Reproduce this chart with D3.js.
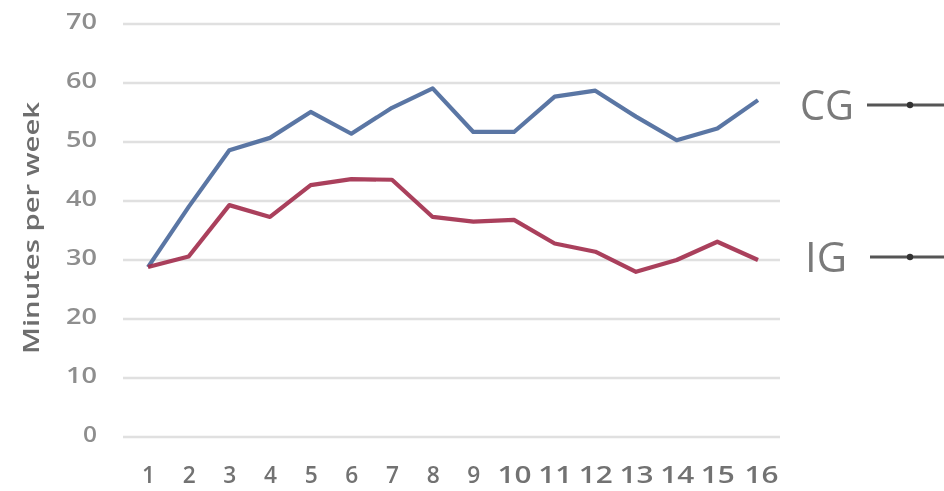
<!DOCTYPE html>
<html>
<head>
<meta charset="utf-8">
<script src="https://cdn.jsdelivr.net/npm/d3@7"></script>
<style>
  body { margin: 0; background: #fff; }
  svg text { font-family: "Open Sans", "DejaVu Sans", sans-serif; }
</style>
</head>
<body>
<div id="chart"></div>
<script>
const weeks = [1, 2, 3, 4, 5, 6, 7, 8, 9, 10, 11, 12, 13, 14, 15, 16];
const cgValues = [28.8, 39, 48.6, 50.7, 55.1, 51.4, 55.8, 59.1, 51.7, 51.7, 57.7, 58.7, 54.3, 50.3, 52.3, 57.1];
const igValues = [28.8, 30.6, 39.3, 37.3, 42.7, 43.7, 43.6, 37.3, 36.5, 36.8, 32.8, 31.4, 28, 30, 33.1, 30];
const yTicks = [0, 10, 20, 30, 40, 50, 60, 70];
const seriesNames = ['CG', 'IG'];
const seriesColors = ['#4d6a9c', '#a3304f'];

document.addEventListener('DOMContentLoaded', () => {
    const width = 944;
    const height = 491;

    const svg = d3.select('#chart')
        .append('svg')
        .attr('width', width)
        .attr('height', height);

    // the reference is a soft, slightly blurry image
    svg.append('defs')
        .append('filter')
        .attr('id', 'soft')
        .append('feGaussianBlur')
        .attr('stdDeviation', 0.7);

    const chart = svg.append('g')
        .attr('filter', 'url(#soft)');

    const xScale = d3.scaleLinear()
        .domain([1, 16])
        .range([148, 758]);

    const yScale = d3.scaleLinear()
        .domain([0, 70])
        .range([437, 24]);

    // gridlines
    chart.append('g')
        .selectAll('line')
        .data(yTicks)
        .join('line')
        .attr('x1', 123)
        .attr('x2', 780)
        .attr('y1', d => yScale(d))
        .attr('y2', d => yScale(d))
        .attr('stroke', '#e0e0e0')
        .attr('stroke-width', 2.5);

    // y axis labels
    const yAxis = chart.append('g')
        .attr('transform', 'translate(97, 0)')
        .call(d3.axisLeft(yScale).tickValues(yTicks).tickSize(0).tickPadding(0));
    yAxis.select('.domain').remove();
    yAxis.selectAll('text')
        .attr('font-size', 21)
        .attr('font-weight', 600)
        .attr('fill', '#8e8e8e')
        .attr('dy', '0.2em')
        .attr('textLength', d => d === 0 ? 14 : 31)
        .attr('lengthAdjust', 'spacingAndGlyphs')
        .style('font-family', '"Open Sans", sans-serif');

    // x axis labels
    const xAxis = chart.append('g')
        .attr('transform', 'translate(0, 464)')
        .call(d3.axisBottom(xScale).tickValues(weeks).tickFormat(d3.format('d')).tickSize(0).tickPadding(0));
    xAxis.select('.domain').remove();
    xAxis.selectAll('text')
        .attr('x', d => d === 16 ? 3 : 0)
        .attr('font-size', 24)
        .attr('font-weight', 600)
        .attr('fill', '#727272')
        .attr('dy', '0.78em')
        .attr('textLength', d => d >= 10 ? 34 : 13)
        .attr('lengthAdjust', 'spacingAndGlyphs')
        .style('font-family', '"Open Sans", sans-serif');

    // y axis title
    chart.append('text')
        .attr('transform', 'translate(39, 228) rotate(-90)')
        .attr('text-anchor', 'middle')
        .attr('font-size', 21)
        .attr('font-weight', 600)
        .attr('fill', '#6e6e6e')
        .attr('textLength', 252)
        .attr('lengthAdjust', 'spacingAndGlyphs')
        .text('Minutes per week');

    const line = d3.line()
        .x((d, i) => xScale(weeks[i]))
        .y(d => yScale(d));

    const allSeries = [cgValues, igValues];
    chart.append('g')
        .selectAll('path')
        .data(allSeries)
        .join('path')
        .attr('d', d => line(d))
        .attr('fill', 'none')
        .attr('stroke', (d, i) => seriesColors[i])
        .attr('stroke-width', 4.2)
        .attr('stroke-linejoin', 'round')
        .attr('opacity', 0.92);

    // legend labels with leader lines
    const legendY = [105, 257];
    const legend = chart.append('g')
        .selectAll('g')
        .data(seriesNames)
        .join('g')
        .attr('transform', (d, i) => `translate(0, ${legendY[i]})`);

    legend.append('text')
        .attr('x', (d, i) => i === 0 ? 800 : 805)
        .attr('y', 15)
        .attr('font-size', 42)
        .attr('fill', '#7a7a7a')
        .attr('textLength', (d, i) => i === 0 ? 54 : 42)
        .attr('lengthAdjust', 'spacingAndGlyphs')
        .text(d => d);

    legend.append('line')
        .attr('x1', (d, i) => i === 0 ? 867 : 870)
        .attr('x2', 944)
        .attr('y1', 0)
        .attr('y2', 0)
        .attr('stroke', '#555')
        .attr('stroke-width', 3);

    legend.append('circle')
        .attr('cx', 910)
        .attr('cy', 0)
        .attr('r', 3.2)
        .attr('fill', '#333');
});
</script>
</body>
</html>
